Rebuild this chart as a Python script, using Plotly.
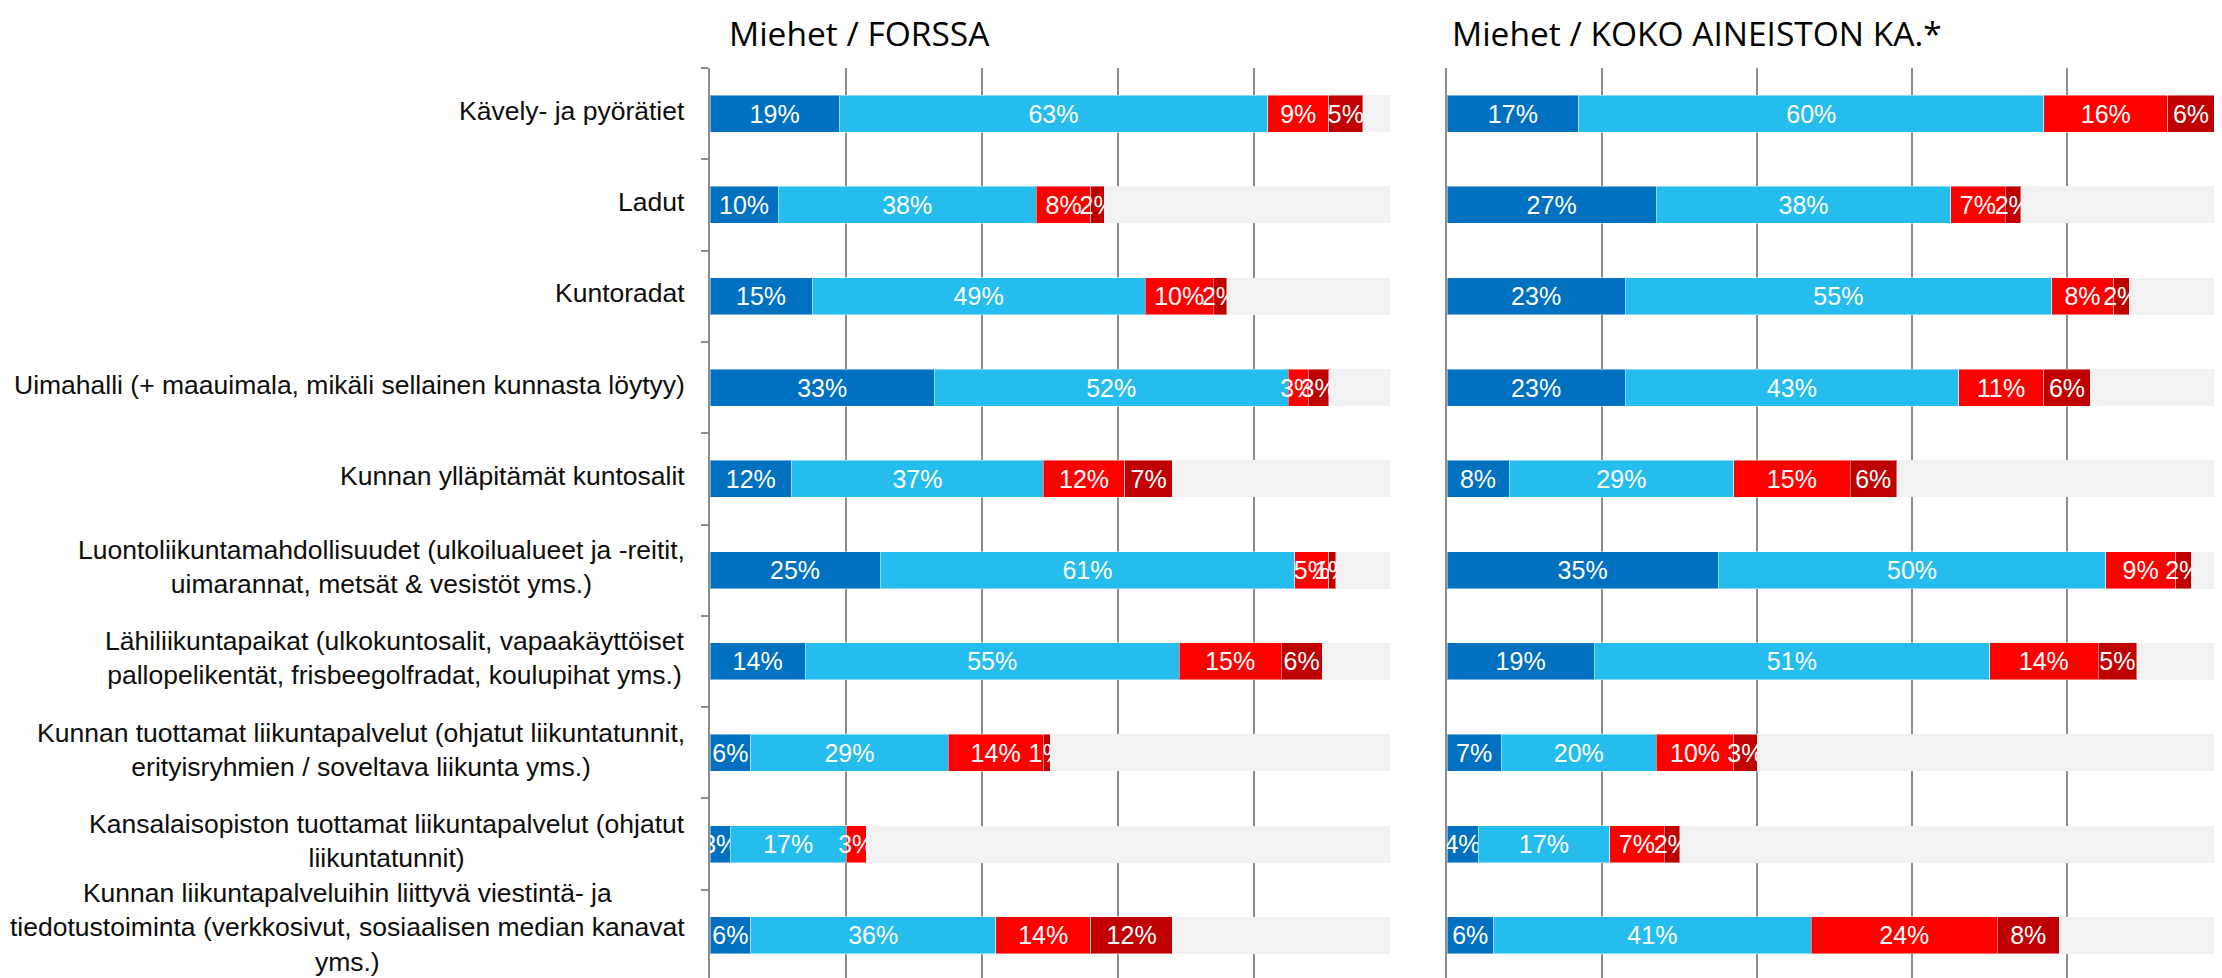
import plotly.graph_objects as go

categories = [
    "Kävely- ja pyörätiet",
    "Ladut",
    "Kuntoradat",
    "Uimahalli (+ maauimala, mikäli sellainen kunnasta löytyy)",
    "Kunnan ylläpitämät kuntosalit",
    "Luontoliikuntamahdollisuudet (ulkoilualueet ja -reitit,<br>uimarannat, metsät & vesistöt yms.)",
    "Lähiliikuntapaikat (ulkokuntosalit, vapaakäyttöiset<br>pallopelikentät, frisbeegolfradat, koulupihat yms.)",
    "Kunnan tuottamat liikuntapalvelut (ohjatut liikuntatunnit,<br>erityisryhmien / soveltava liikunta yms.)",
    "Kansalaisopiston tuottamat liikuntapalvelut (ohjatut<br>liikuntatunnit)",
    "Kunnan liikuntapalveluihin liittyvä viestintä- ja<br>tiedotustoiminta (verkkosivut, sosiaalisen median kanavat<br>yms.)",
]
series_names = ["Erittäin tyytyväinen", "Melko tyytyväinen", "Melko tyytymätön",
                "Erittäin tyytymätön", "En osaa sanoa"]

forssa_1 = [19, 10, 15, 33, 12, 25, 14, 6, 3, 6]
forssa_2 = [63, 38, 49, 52, 37, 61, 55, 29, 17, 36]
forssa_3 = [9, 8, 10, 3, 12, 5, 15, 14, 3, 14]
forssa_4 = [5, 2, 2, 3, 7, 1, 6, 1, 0, 12]

koko_1 = [17, 27, 23, 23, 8, 35, 19, 7, 4, 6]
koko_2 = [60, 38, 55, 43, 29, 50, 51, 20, 17, 41]
koko_3 = [16, 7, 8, 11, 15, 9, 14, 10, 7, 24]
koko_4 = [6, 2, 2, 6, 6, 2, 5, 3, 2, 8]

titles = ["Miehet / FORSSA", "Miehet / KOKO AINEISTON KA.*"]

colors = ["#0070c0", "#25bdee", "#ff0000", "#c00000", "#f2f2f2"]

keys = list(range(len(categories)))

fig = go.Figure()


def add_panel(parts, xa, ya):
    rest = [100 - sum(v) for v in zip(*parts)]
    for i, vals in enumerate(parts + [rest]):
        last = i == 4
        fig.add_trace(go.Bar(
            y=keys, x=vals, orientation="h", name=series_names[i],
            xaxis=xa, yaxis=ya, width=0.405,
            marker=dict(color=colors[i],
                        line=dict(width=0 if last else 1, color="rgba(255,255,255,0.45)")),
            text=None if last else [f"{v}%" if v > 0 else "" for v in vals],
            textposition="inside", insidetextanchor="middle", textangle=0,
            constraintext="none", cliponaxis=False,
            textfont=dict(family="Liberation Sans, Arial", size=25, color="white"),
            hoverinfo="skip", showlegend=False,
        ))


add_panel([forssa_1, forssa_2, forssa_3, forssa_4], "x", "y")
add_panel([koko_1, koko_2, koko_3, koko_4], "x2", "y2")

# page body adds an 8px offset, so the figure is 8px smaller and everything shifted
W, H = 2214, 970
off = 8
top = 68 - off
rng = [9.467, -0.5]

axis_x = dict(range=[0, 100], dtick=20, showgrid=True, gridcolor="#8c8c8c", gridwidth=2,
              zeroline=False, showticklabels=False, ticks="", fixedrange=True)
fig.update_layout(
    width=W, height=H,
    margin=dict(l=0, r=0, t=top, b=0),
    paper_bgcolor="white", plot_bgcolor="white",
    barmode="stack", bargap=0.6,
    uniformtext=dict(mode="show", minsize=25),
    xaxis=dict(axis_x, domain=[(710 - off) / W, (1390 - off) / W]),
    xaxis2=dict(axis_x, domain=[(1447 - off) / W, 1.0]),
    yaxis=dict(range=rng, anchor="x", showgrid=False, zeroline=False, showticklabels=False,
               showline=True, linecolor="#8c8c8c", linewidth=2,
               tickmode="array", tickvals=[k + 0.5 for k in keys] + [-0.5],
               ticks="outside", ticklen=7, tickcolor="#8c8c8c", tickwidth=2),
    yaxis2=dict(range=rng, anchor="x2", showgrid=False, zeroline=False, showticklabels=False,
                showline=True, linecolor="#8c8c8c", linewidth=2, ticks=""),
    font=dict(family="Liberation Sans, Arial", color="black"),
)

for k, cat in zip(keys, categories):
    # the three-line label at the bottom is nudged up so it stays inside the page
    fig.add_annotation(x=(687 - off) / W, xref="paper", xanchor="right", y=k, yref="y",
                       yshift=8 if k == keys[-1] else 3, text=cat, showarrow=False,
                       align="center",
                       font=dict(family="Liberation Sans, Arial", size=26.5, color="#0d0d0d"))

plot_h = H - top
for xpos, t in zip([727, 1450], titles):
    fig.add_annotation(x=(xpos - off) / W, xref="paper", xanchor="left",
                       y=1 + top / plot_h, yref="paper", yanchor="top",
                       text=t, showarrow=False,
                       font=dict(family="Open Sans", size=33.5, color="black"))

fig.write_html("out.html")
